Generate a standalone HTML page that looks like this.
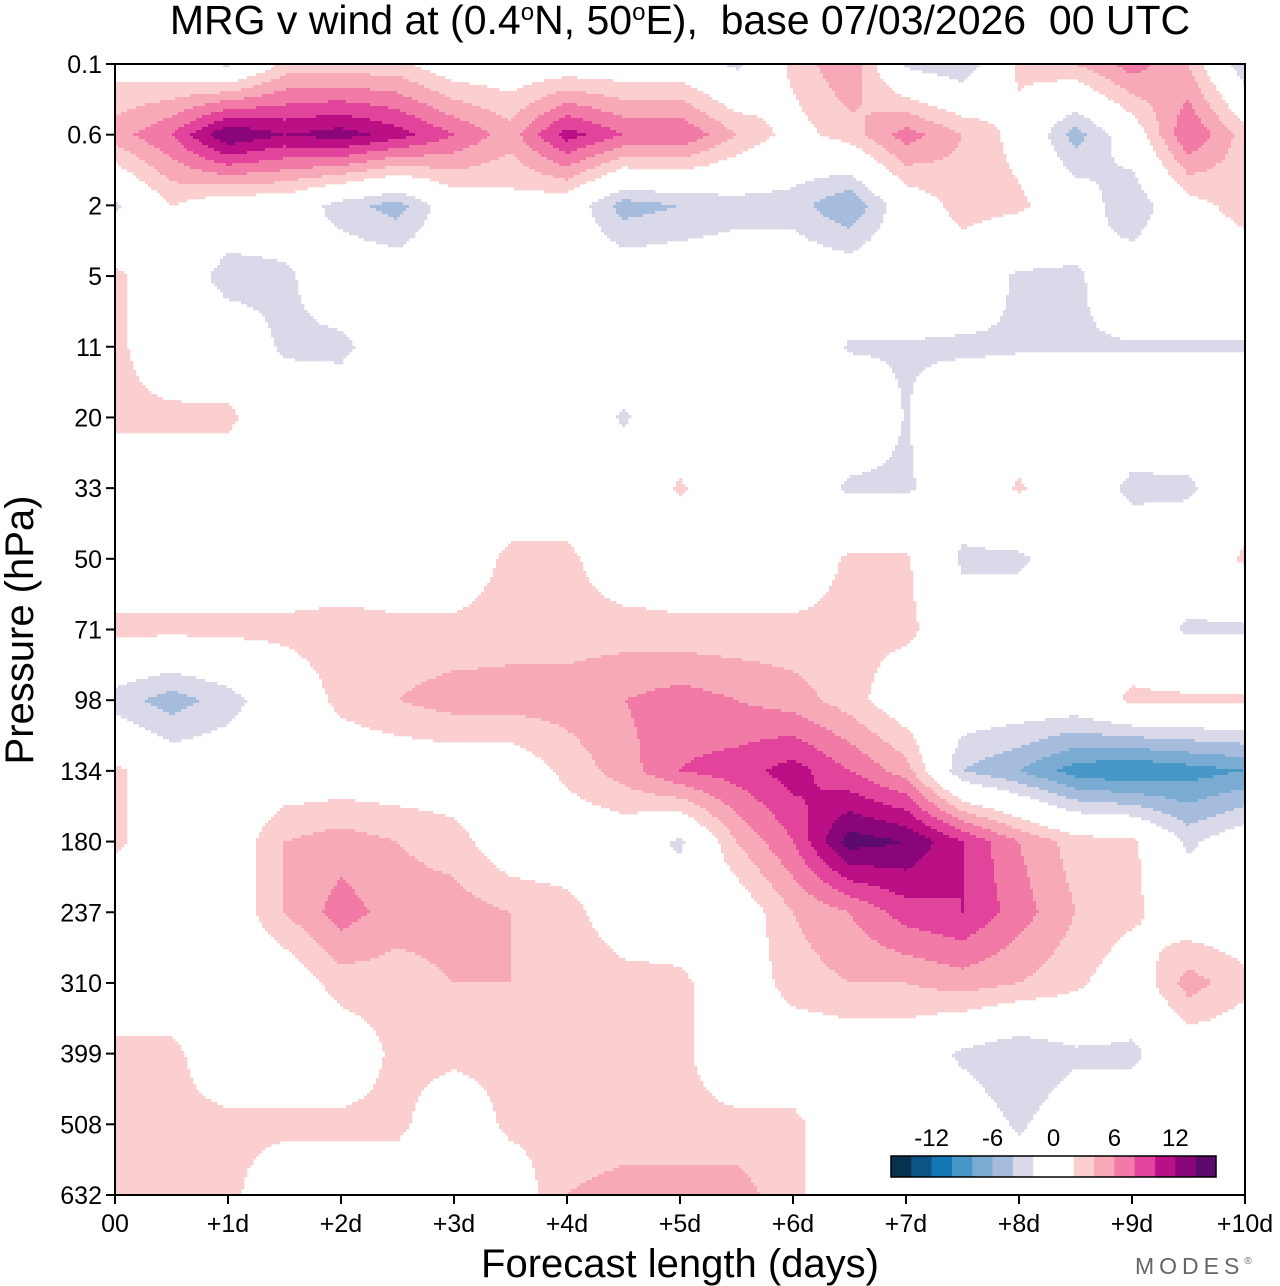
<!DOCTYPE html>
<html><head><meta charset="utf-8"><style>
body{margin:0;background:#fff;width:1280px;height:1286px;overflow:hidden;font-family:"Liberation Sans",sans-serif}
svg{position:absolute;left:0;top:0}
</style></head><body>
<svg id="chart" width="1280" height="1286" xmlns="http://www.w3.org/2000/svg">
<text x="680" y="34" text-anchor="middle" font-size="41" style="white-space:pre" font-family="Liberation Sans">MRG v wind at (0.4<tspan font-size="24" dy="-14">o</tspan><tspan dy="14">N, 50</tspan><tspan font-size="24" dy="-14">o</tspan><tspan dy="14">E),  base 07/03/2026  00 UTC</tspan></text>
<g id="field"></g>
<g id="axes"></g>
<text x="680" y="1277" text-anchor="middle" font-size="40">Forecast length (days)</text>
<text transform="translate(33,630) rotate(-90)" text-anchor="middle" font-size="40">Pressure (hPa)</text>
<text x="1135" y="1274" font-size="23" fill="#666" letter-spacing="5">MODES<tspan font-size="10" dy="-10">®</tspan></text>
<g id="legend"></g>
</svg>
<script>
const levels=["0.1","0.6","2","5","11","20","33","50","71","98","134","180","237","310","399","508","632"];
const dayLabels=["00","+1d","+2d","+3d","+4d","+5d","+6d","+7d","+8d","+9d","+10d"];
const days=[0,0.5,1,1.5,2,2.5,3,3.5,4,4.5,5,5.5,6,6.5,7,7.5,8,8.5,9,9.5,10];
const r0=[1,0,-2.5,2.6,2.6,2.6,0,0,0,0,0,-2.5,2.6,6,-2.5,-4,2.6,4,7,4,-4];
const r1=[5,8,14,12,13,11,8,5,11,8,8,4,1,3,7,4,1,-5,0,8,3];
const r2=[-2.5,2,0,0,-3,-5,0,1,0,-5,-4,-3,-3,-6,0,3,2.5,0,-4,1,3];
const r3=[2.6,0,-3,-2.5,0,0,0,0,0,0,0,0,0,0,0,0,-2.4,-2.4,0,0,0];
const r4=[2.6,0,0,-2.4,-2.6,0,0,0,0,0,0,0,0,-2.2,-2.2,-2.4,-2.2,-2.2,-2.2,-2.2,-2.2];
const r5=[2.6,2.6,2.5,0,0,0,0,0,0,-2.3,0,0,0,0,-2.1,0,0,0,0,0,0];
const r6=[0,0,0,0,0,0,0,0,0,0,2.3,0,0,-2.4,-2.4,0,2.3,0,-2.6,-2.4,0];
const r7=[0,0,0,0,0,0,0,2.6,2.6,0,0,0,0,2.4,2.4,-2.5,-2.5,0,0,0,2.4];
const r8=[2.6,2.6,2.6,2.6,3,2.6,2.6,3,3,3,2.6,2.6,2.6,2.6,2.6,0,0,0,0,-2.4,-2.4];
const r9=[-3,-5,-3,0,2.6,4,5,5,5,6,7,6,5,3,0,0,0,0,2.5,2.5,2.5];
const r10=[2.5,0,0,0,0,0,0,0,2.6,5,8,9,11,8,5,-4,-6,-9,-10,-9,-8];
const r11=[2.5,0,0,4,5,4,3,0,0,0,-2.5,4,8,15,14,10,6,3,2.6,-2.5,0];
const r12=[0,0,0,4,7,5,5,4,3,0,0,0,4,6,9,10,7,4,2.6,0,0];
const r13=[0,0,0,0,3,3,4,4,4,3,2.6,0,3,4,4,5,4,2.6,0,5,2.6];
const r14=[2.6,2.6,0,0,0,2.6,2.6,2.6,2.6,2.6,2.6,0,0,0,0,-2.5,-4,-2.5,-2.5,0,0];
const r15=[2.6,2.6,2.6,2.6,2.6,2.6,0,2.6,2.6,2.6,2.6,2.6,2.6,0,0,0,-2.4,0,0,0,0];
const r16=[2.6,2.6,2.6,0,0,0,0,0,4,5,5,5,2.6,0,0,0,0,0,0,0,0];
const grid=[r0,r1,r2,r3,r4,r5,r6,r7,r8,r9,r10,r11,r12,r13,r14,r15,r16];
const legendTicks=[-12,-6,0,6,12];
const bounds=[-14,-12,-10,-8,-6,-4,-2,0,2,4,6,8,10,12,14];
const colors=["#08304f","#0b5585","#1177b5","#4797c8","#7aabd3","#a6bcdc","#d9d9ea","#ffffff","#ffffff","#fbcfcf","#f7a9b7","#f17aa6","#e2449b","#bb0f86","#8b057a","#5c0a6b"];

const X0=115,X1=1245,Y0=64,Y1=1195;
const xs=d=>X0+d/10*(X1-X0);
const ys=i=>Y0+i/(levels.length-1)*(Y1-Y0);
const NS="http://www.w3.org/2000/svg";
function colorOf(v){let k=0;while(k<bounds.length&&v>=bounds[k])k++;return colors[k];}
function val(fx,fy){
  const i=Math.min(Math.floor(fy),grid.length-2),j=Math.min(Math.floor(fx),days.length-2);
  const ty=fy-i,tx=fx-j;
  const a=grid[i][j],b=grid[i][j+1],c=grid[i+1][j],d=grid[i+1][j+1];
  return (a*(1-tx)+b*tx)*(1-ty)+(c*(1-tx)+d*tx)*ty;
}
const field=document.getElementById('field');
const step=3;
const nx=Math.ceil((X1-X0)/step),ny=Math.ceil((Y1-Y0)/step);
for(let r=0;r<ny;r++){
  const py=Y0+r*step, fy=((py+step/2-Y0)/(Y1-Y0))*(levels.length-1);
  let start=0,cur=null;
  for(let c=0;c<=nx;c++){
    let col=null;
    if(c<nx){const px=X0+c*step;const fx=((px+step/2-X0)/(X1-X0))*(days.length-1);col=colorOf(val(fx,fy));}
    if(col!==cur){
      if(cur&&cur!=="#ffffff"){
        const rc=document.createElementNS(NS,'rect');
        
        
        rc.setAttribute('x',X0+start*step);rc.setAttribute('y',py);
        rc.setAttribute('width',Math.min((c-start)*step,X1-(X0+start*step))+0.3);
        rc.setAttribute('height',Math.min(step,Y1-py)+0.3);
        rc.setAttribute('fill',cur);field.appendChild(rc);
      }
      cur=col;start=c;
    }
  }
}
const axes=document.getElementById('axes');
function add(parent,tag,attrs,text){const e=document.createElementNS(NS,tag);for(const k in attrs)e.setAttribute(k,attrs[k]);if(text!=null)e.textContent=text;parent.appendChild(e);return e;}
const frame=add(axes,'rect',{x:X0,y:Y0,width:X1-X0,height:Y1-Y0,fill:'none',stroke:'#000','stroke-width':2});


levels.forEach((l,i)=>{
  const y=ys(i);
  const t=add(axes,'line',{x1:X0-9,x2:X0,y1:y,y2:y,stroke:'#000','stroke-width':2});
  
  
  const tx=add(axes,'text',{x:X0-13,y:y+9,'text-anchor':'end','font-size':25},l);
  
  
});
dayLabels.forEach((l,i)=>{
  const x=xs(i);
  const t=add(axes,'line',{x1:x,x2:x,y1:Y1,y2:Y1+9,stroke:'#000','stroke-width':2});
  
  
  const tx=add(axes,'text',{x:x,y:Y1+37,'text-anchor':'middle','font-size':25},l);
  
  
});
const lg=document.getElementById('legend');
const LX=891,LW=325,LY=1156,LH=21,bw=LW/colors.length;
colors.forEach((c,k)=>{
  const r=add(lg,'rect',{x:LX+k*bw,y:LY,width:bw+0.3,height:LH,fill:c});
  
  
});
const lb=add(lg,'rect',{x:LX,y:LY,width:LW,height:LH,fill:'none',stroke:'#000','stroke-width':1.5});


legendTicks.forEach(v=>{
  const x=LX+(v+16)/2*bw;
  const t=add(lg,'text',{x:x,y:LY-10,'text-anchor':'middle','font-size':24},String(v));
  
  
});
</script>
</body></html>
